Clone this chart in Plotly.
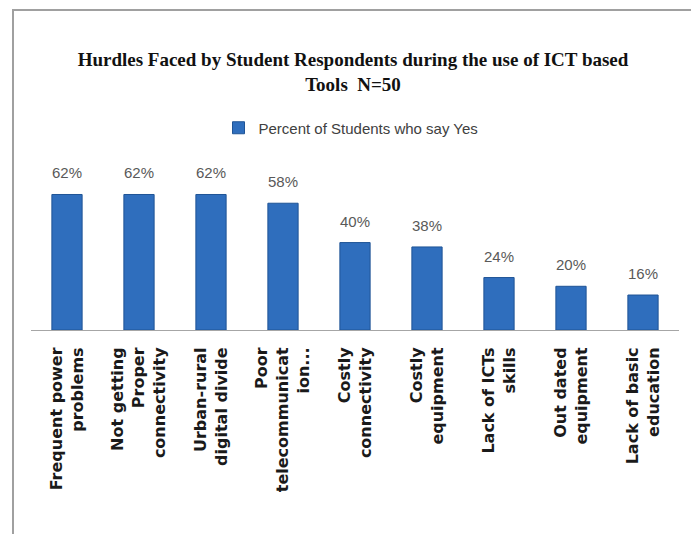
import plotly.graph_objects as go

categories = [
    "Frequent power<br>problems",
    "Not getting<br>Proper<br>connectivity",
    "Urban-rural<br>digital divide",
    "Poor<br>telecommunicat<br>ion...",
    "Costly<br>connectivity",
    "Costly<br>equipment",
    "Lack of ICTs<br>skills",
    "Out dated<br>equipment",
    "Lack of basic<br>education",
]
values = [62, 62, 62, 58, 40, 38, 24, 20, 16]
labels = [f"{v}%" for v in values]
series_name = "Percent of Students who say Yes"
title_text = "Hurdles Faced by Student Respondents during the use of ICT based<br>Tools  N=50"

OFF = 8  # page body margin
W, H = 699 - 2 * OFF, 542 - 2 * OFF
L, T = 31 - OFF, 177 - OFF
pw, ph = 648, 153
R = W - L - pw
B = H - T - ph

def px_x(x):
    return (x - OFF - L) / pw

def px_y(y):
    return (T + ph - (y - OFF)) / ph

fig = go.Figure()
fig.add_trace(go.Bar(
    x=categories, y=values, name=series_name,
    marker=dict(color="#2F6EBD", line=dict(color="#1F5496", width=1)),
    width=0.42,
))
fig.add_trace(go.Scatter(
    x=categories, y=values, mode="markers+text", text=labels,
    textposition="top center", showlegend=False, hoverinfo="skip", cliponaxis=False,
    marker=dict(size=18, color="rgba(0,0,0,0)"),
    textfont=dict(family="Liberation Sans", size=15, color="#595959"),
))

fig.update_layout(
    width=W, height=H,
    margin=dict(l=L, r=R, t=T, b=B, autoexpand=False),
    paper_bgcolor="white", plot_bgcolor="white",
    title=dict(text=title_text, x=px_x(353) * pw / W + L / W, xanchor="center",
               y=1 - (66 - OFF) / H, yanchor="top",
               font=dict(family="Liberation Serif", size=19, color="#111111", weight="bold")),
    legend=dict(orientation="h", x=px_x(351), xanchor="center", y=px_y(128), yanchor="middle",
                font=dict(family="Liberation Sans", size=15, color="#404040"),
                itemwidth=30, bgcolor="rgba(0,0,0,0)"),
    showlegend=True,
    bargap=0.58,
    xaxis=dict(range=[-0.5, 8.5], showline=True, linecolor="#A6A6A6", linewidth=1, ticks="",
               tickangle=-90,
               tickfont=dict(family="DejaVu Sans", size=16, color="#1a1a1a", weight="bold"),
               automargin=False, ticklabelstandoff=10, showgrid=False),
    yaxis=dict(range=[0, 70], visible=False, showgrid=False, zeroline=False, automargin=False),
    shapes=[dict(type="rect", xref="paper", yref="paper",
                 x0=px_x(13), x1=px_x(695), y0=px_y(600), y1=px_y(10),
                 line=dict(color="#A0A0A0", width=2), fillcolor="rgba(0,0,0,0)", layer="below")],
)

fig.write_html("out.html")
